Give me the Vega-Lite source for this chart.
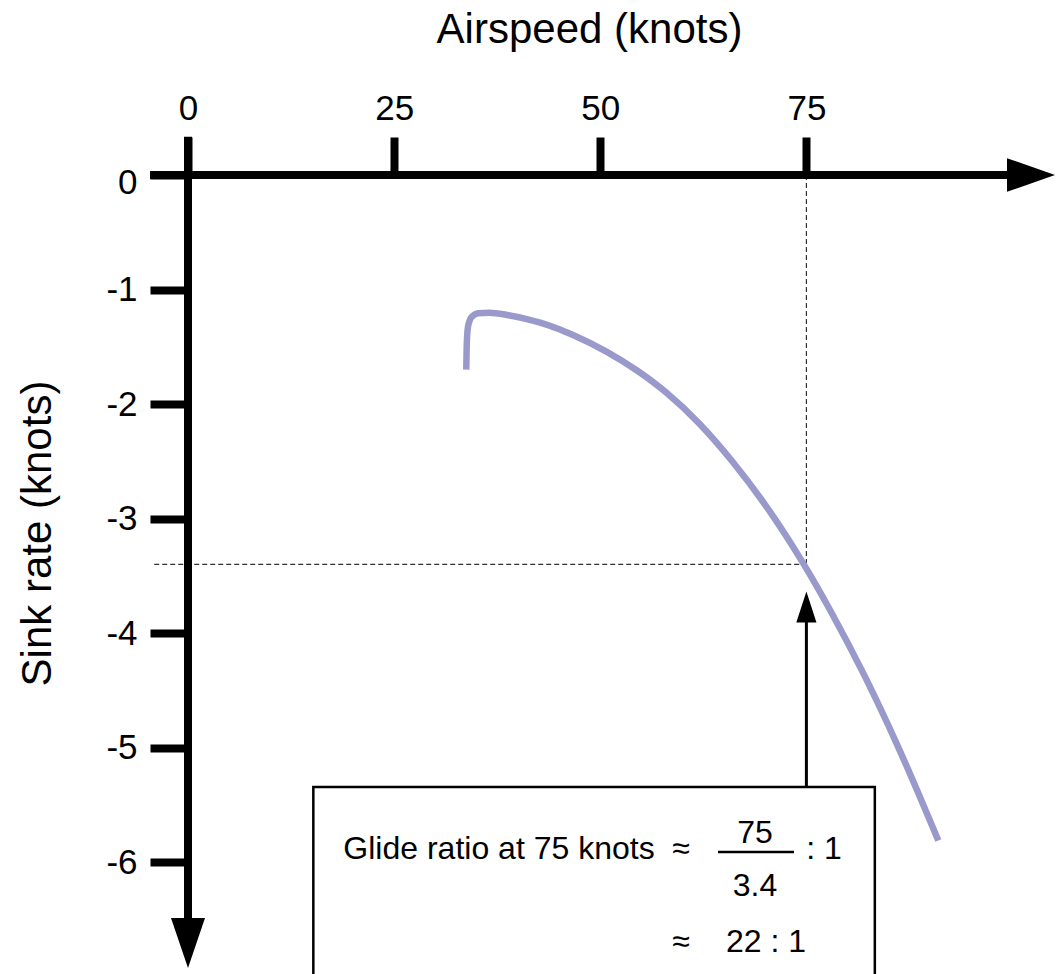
{
  "$schema": "https://vega.github.io/schema/vega-lite/v6.json",
  "width": 874,
  "height": 799,
  "autosize": {"type": "none"},
  "padding": {"left": 188, "top": 175, "right": 0, "bottom": 0},
  "background": "white",
  "config": {"view": {"stroke": null}, "font": "Liberation Sans"},
  "datasets": {
    "polar": [
      {"x": 33.75, "y": -1.70},
      {"x": 33.8, "y": -1.50},
      {"x": 33.95, "y": -1.33},
      {"x": 34.4, "y": -1.24},
      {"x": 35.2, "y": -1.207},
      {"x": 36.5, "y": -1.203},
      {"x": 38.7, "y": -1.222},
      {"x": 40.7, "y": -1.252},
      {"x": 42.7, "y": -1.29},
      {"x": 44.7, "y": -1.338},
      {"x": 46.7, "y": -1.398},
      {"x": 50.8, "y": -1.545},
      {"x": 54.5, "y": -1.71},
      {"x": 58, "y": -1.90},
      {"x": 62, "y": -2.17},
      {"x": 66, "y": -2.50},
      {"x": 70, "y": -2.88},
      {"x": 74.6, "y": -3.39},
      {"x": 78, "y": -3.816},
      {"x": 82, "y": -4.366},
      {"x": 86, "y": -4.974},
      {"x": 91, "y": -5.813}
    ],
    "axisLines": [
      {"x": -4.6, "x2": 100, "y": 0, "y2": 0},
      {"x": 0, "x2": 0, "y": 0.335, "y2": -6.5}
    ],
    "guides": [
      {"x": -4.1, "x2": 75, "y": -3.4, "y2": -3.4},
      {"x": 75, "x2": 75, "y": 0, "y2": -3.4}
    ],
    "box": [{"x": 15.2, "x2": 83.3, "y": -5.345, "y2": -7.5}],
    "pointer": [{"x": 75, "x2": 75, "y": -5.345, "y2": -3.88}],
    "fractionBar": [{"x": 64.28, "x2": 73.5, "y": -5.913, "y2": -5.913}],
    "xArrow": [{"x": 102.24, "y": 0}],
    "yArrow": [{"x": 0, "y": -6.707}],
    "upArrow": [{"x": 75, "y": -3.773}],
    "labels": [
      {"x": 37.72, "y": -5.974, "text": "Glide ratio at 75 knots"},
      {"x": 59.79, "y": -5.974, "text": "≈"},
      {"x": 68.77, "y": -5.834, "text": "75"},
      {"x": 68.77, "y": -6.297, "text": "3.4"},
      {"x": 77.14, "y": -5.974, "text": ": 1"},
      {"x": 59.79, "y": -6.786, "text": "≈"},
      {"x": 70.1, "y": -6.786, "text": "22 : 1"}
    ]
  },
  "encoding": {
    "x": {
      "field": "x", "type": "quantitative",
      "scale": {"domain": [0, 106], "nice": false, "zero": false},
      "axis": {
        "orient": "top", "values": [0, 25, 50, 75], "domain": false, "grid": false,
        "tickSize": 38, "tickWidth": 8, "tickColor": "black", "tickCap": "butt",
        "labelFontSize": 35, "labelColor": "black", "labelPadding": 11, "labelFont": "Liberation Sans",
        "labelFlush": false, "labelOverlap": false,
        "title": "Airspeed (knots)", "titleFontSize": 42, "titleFontWeight": "normal", "titleColor": "black",
        "titleFont": "Liberation Sans", "titleX": 401, "titleY": -133, "titleAlign": "center", "titleBaseline": "alphabetic"
      }
    },
    "y": {
      "field": "y", "type": "quantitative",
      "scale": {"domain": [-6.978, 0], "nice": false, "zero": false},
      "axis": {
        "orient": "left", "values": [0, -1, -2, -3, -4, -5, -6], "domain": false, "grid": false,
        "tickSize": 38, "tickWidth": 8, "tickColor": "black", "tickCap": "butt",
        "labelFontSize": 35, "labelColor": "black", "labelPadding": 13, "labelFont": "Liberation Sans",
        "labelFlush": false, "labelOverlap": false, "labelExpr": "toString(datum.value)",
        "labelOffset": {"condition": {"test": "datum.value === 0", "value": 7}, "value": 0},
        "title": "Sink rate (knots)", "titleFontSize": 42, "titleFontWeight": "normal", "titleColor": "black",
        "titleFont": "Liberation Sans", "titleX": -138, "titleY": 358, "titleAngle": 270, "titleAlign": "center", "titleBaseline": "alphabetic"
      }
    }
  },
  "layer": [
    {
      "data": {"name": "guides"},
      "mark": {"type": "rule", "color": "#333333", "strokeWidth": 1.2, "strokeDash": [5, 3]},
      "encoding": {"x2": {"field": "x2"}, "y2": {"field": "y2"}}
    },
    {
      "data": {"name": "axisLines"},
      "mark": {"type": "rule", "color": "black", "strokeWidth": 8, "strokeCap": "butt"},
      "encoding": {"x2": {"field": "x2"}, "y2": {"field": "y2"}}
    },
    {
      "data": {"name": "polar"},
      "mark": {"type": "line", "color": "#9999cc", "strokeWidth": 6.5, "interpolate": "monotone", "strokeCap": "butt", "strokeJoin": "round"},
      "encoding": {}
    },
    {
      "data": {"name": "box"},
      "mark": {"type": "rect", "fill": "white", "stroke": "black", "strokeWidth": 2.5},
      "encoding": {"x2": {"field": "x2"}, "y2": {"field": "y2"}}
    },
    {
      "data": {"name": "pointer"},
      "mark": {"type": "rule", "color": "black", "strokeWidth": 3},
      "encoding": {"x2": {"field": "x2"}, "y2": {"field": "y2"}}
    },
    {
      "data": {"name": "fractionBar"},
      "mark": {"type": "rule", "color": "black", "strokeWidth": 2.5},
      "encoding": {"x2": {"field": "x2"}, "y2": {"field": "y2"}}
    },
    {
      "data": {"name": "xArrow"},
      "mark": {"type": "point", "shape": "M -1 -0.7 L 1 0 L -1 0.7 Z", "size": 2304, "filled": true, "color": "black", "opacity": 1, "strokeWidth": 0}
    },
    {
      "data": {"name": "yArrow"},
      "mark": {"type": "point", "shape": "M -0.68 -1 L 0.68 -1 L 0 1 Z", "size": 2500, "filled": true, "color": "black", "opacity": 1, "strokeWidth": 0}
    },
    {
      "data": {"name": "upArrow"},
      "mark": {"type": "point", "shape": "M -0.65 1 L 0.65 1 L 0 -1 Z", "size": 961, "filled": true, "color": "black", "opacity": 1, "strokeWidth": 0}
    },
    {
      "data": {"name": "labels"},
      "mark": {"type": "text", "align": "center", "baseline": "alphabetic", "fontSize": 32, "font": "Liberation Sans", "color": "black"},
      "encoding": {"text": {"field": "text"}}
    }
  ]
}
